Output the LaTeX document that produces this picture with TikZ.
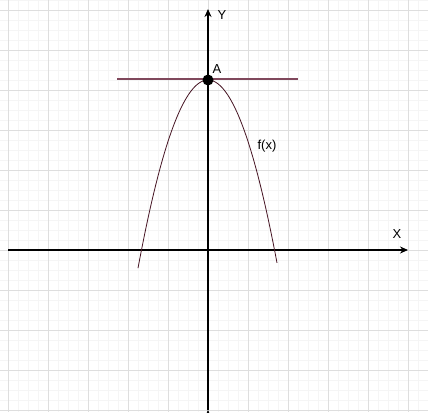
\documentclass[tikz,border=0pt]{standalone}
\usepackage{fontspec}
\setmainfont{Liberation Sans}
\usetikzlibrary{arrows.meta,positioning,calc}
\definecolor{tangentred}{RGB}{128,72,92}
\definecolor{curvered}{RGB}{70,20,35}
\begin{document}
\begin{tikzpicture}[x=1pt,y=-1pt,
  minorgrid/.style={draw=black!4,line width=0.5pt},
  majorgrid/.style={draw=black!13,line width=0.7pt},
  axis/.style={draw=black,line width=1.1pt,-{Stealth[length=8pt,width=7pt]}},
  label/.style={font=\fontsize{13}{15}\selectfont,inner sep=1pt}]
\useasboundingbox (0,0) rectangle (428,412);
\fill[white] (0,0) rectangle (428,412);
% grid
\foreach \k in {-2,8,...,428} \draw[minorgrid] (\k,0) -- (\k,412);
\foreach \k in {0,10,...,412} \draw[minorgrid] (0,\k) -- (428,\k);
\foreach \k in {8,48,...,428} \draw[majorgrid] (\k,0) -- (\k,412);
\foreach \k in {10,50,...,412} \draw[majorgrid] (0,\k) -- (428,\k);
% axes
\coordinate (xl) at (8,250);
\coordinate (xr) at (408,250);
\coordinate (yb) at (208,410);
\coordinate (yt) at (208,9);
\path[axis] (xl) edge (xr) (yb) edge (yt);
% curve and tangent
\coordinate (A) at (208,80);
\coordinate (tl) at (117,79);
\coordinate (tr) at (298,79);
\draw[curvered,line width=0.8pt] plot[domain=-70:69,samples=80] ({208+\x},{80+0.0384*\x*\x});
\draw[tangentred,line width=2pt] (tl) -- (tr);
\fill[black] (A) circle (5.5pt);
% labels
\node[label] (lA) at (217,69) {A};
\node[label] (lY) at (222,15) {Y};
\node[label] (lX) at (397,234) {X};
\node[label] (lf) at (267,146) {f(x)};
\end{tikzpicture}
\end{document}
